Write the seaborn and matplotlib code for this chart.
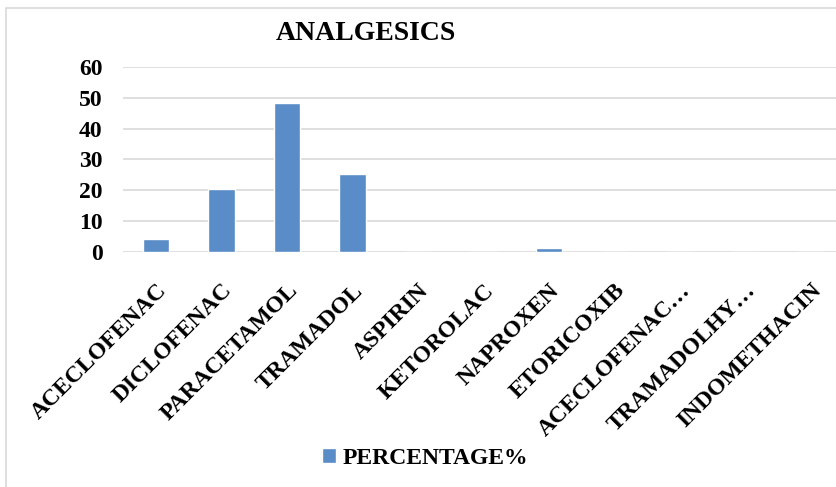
import matplotlib
matplotlib.use("Agg")
import matplotlib.pyplot as plt
import seaborn as sns
import pandas as pd
from matplotlib.patches import Rectangle

drugs = ["ACECLOFENAC", "DICLOFENAC", "PARACETAMOL", "TRAMADOL", "ASPIRIN",
         "KETOROLAC", "NAPROXEN", "ETORICOXIB", "ACECLOFENAC\u2026",
         "TRAMADOLHY\u2026", "INDOMETHACIN"]
percentage = [4.2, 20.4, 48.2, 25.2, 0, 0, 1.5, 0, 0, 0, 0]
yticks = [0, 10, 20, 30, 40, 50, 60]

df = pd.DataFrame({"drug": drugs, "PERCENTAGE%": percentage})

sns.set_style("white")
plt.rcParams['font.family'] = ['Liberation Serif', 'DejaVu Serif']
plt.rcParams['font.weight'] = 'bold'
plt.rcParams['text.color'] = 'black'
plt.rcParams['xtick.color'] = 'black'
plt.rcParams['ytick.color'] = 'black'

fig = plt.figure(figsize=(8.36, 4.87), dpi=100)
# light frame round the chart area
fig.patches.append(Rectangle((6/836, -0.1), 2, 1.1 - 8/487, transform=fig.transFigure,
                             fill=False, edgecolor='#d9d9d9', lw=1.2))
ax = fig.add_axes([0.1475, 0.482, 0.8618, 0.381])

sns.barplot(data=df, x="drug", y="PERCENTAGE%", color='#5a8cc7', width=0.41,
            ax=ax, label="PERCENTAGE%", saturation=1)

ax.set_ylim(0, 60)
ax.set_xlim(-0.5, len(drugs) - 0.5)
ax.set_yticks(yticks)
ax.set_yticklabels([str(t) for t in yticks], fontsize=17, fontweight='bold')
ax.set_xticks(range(len(drugs)))
ax.set_xticklabels(drugs, rotation=45, ha='right', va='top', rotation_mode='anchor',
                   fontsize=17, fontweight='bold')
ax.tick_params(axis='y', length=0, pad=15)
ax.tick_params(axis='x', length=0, pad=20)
ax.yaxis.grid(True, color='#d9d9d9', lw=1.2)
ax.set_axisbelow(True)
for s in ax.spines.values():
    s.set_visible(False)
ax.set_xlabel("")
ax.set_ylabel("")

fig.text(366/836, 1 - 33/487, "ANALGESICS", ha='center', va='center',
         fontsize=20, fontweight='bold')

ax.legend(loc='center', bbox_to_anchor=(425/836, 1 - 458/487),
          bbox_transform=fig.transFigure, frameon=False,
          prop={'size': 17, 'weight': 'bold'}, handlelength=0.6, handleheight=0.6,
          handletextpad=0.3)

fig.savefig("out.png", dpi=100)
